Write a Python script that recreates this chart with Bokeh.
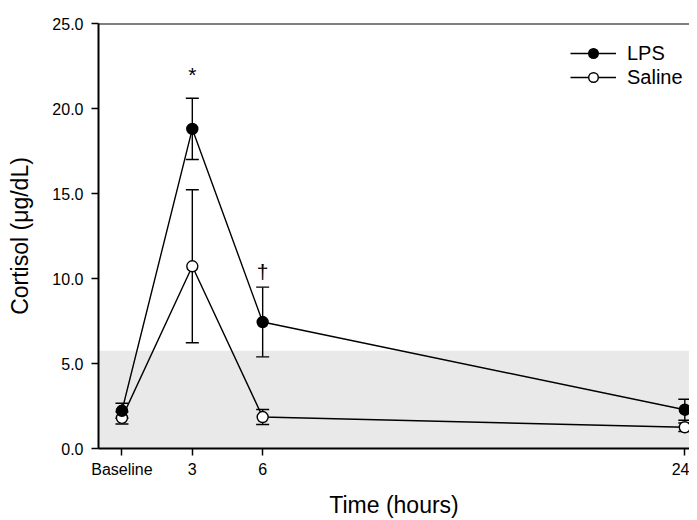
from bokeh.plotting import figure
from bokeh.models import (ColumnDataSource, Whisker, TeeHead, FixedTicker, BoxAnnotation,
                          Span, Legend, LegendItem, NumeralTickFormatter, Range1d)
from bokeh.core.properties import value
from bokeh.embed import file_html
from bokeh.resources import INLINE

# ---- data ----
hours = [0, 3, 6, 24]
tick_labels = ["Baseline", "3", "6", "24"]
lps_mean = [2.22, 18.8, 7.44, 2.28]
lps_err = [0.44, 1.8, 2.05, 0.62]
saline_mean = [1.80, 10.72, 1.85, 1.25]
saline_err = [0.36, 4.5, 0.44, 0.25]
normal_range_top = 5.75
annot_x = [3, 6]
annot_y = [22.0, 10.4]
annot_text = ["*", "\u2020"]

FONT = "Liberation Sans"

lps = ColumnDataSource(dict(x=hours, y=lps_mean,
                            lo=[m - e for m, e in zip(lps_mean, lps_err)],
                            hi=[m + e for m, e in zip(lps_mean, lps_err)]))
sal = ColumnDataSource(dict(x=hours, y=saline_mean,
                            lo=[m - e for m, e in zip(saline_mean, saline_err)],
                            hi=[m + e for m, e in zip(saline_mean, saline_err)]))

p = figure(width=689, height=520, output_backend="svg", toolbar_location=None,
           x_range=Range1d(-1, 24.2), y_range=Range1d(0, 25),
           min_border_left=98, min_border_top=23, min_border_right=0, min_border_bottom=70)
p.outline_line_color = None
p.grid.visible = False
p.background_fill_color = "white"

# shaded normal range
p.add_layout(BoxAnnotation(bottom=0, top=normal_range_top, fill_color="#e9e9e9",
                           fill_alpha=1.0, line_color=None, level="underlay"))
# top border line
p.add_layout(Span(location=25, dimension="width", line_color="black", line_width=2))

# lines
l_lps = p.line("x", "y", source=lps, line_color="black", line_width=1.4)
l_sal = p.line("x", "y", source=sal, line_color="black", line_width=1.4)

# error bars
for src in (lps, sal):
    w = Whisker(source=src, base="x", upper="hi", lower="lo", line_color="black", line_width=1.4,
                upper_head=TeeHead(size=13, line_color="black", line_width=1.4),
                lower_head=TeeHead(size=13, line_color="black", line_width=1.4))
    p.add_layout(w)

m_sal = p.scatter("x", "y", source=sal, size=11, fill_color="white", line_color="black", line_width=1.4)
m_lps = p.scatter("x", "y", source=lps, size=11, fill_color="black", line_color="black", line_width=1.4)

# annotations
p.text(x=annot_x, y=annot_y, text=annot_text, text_align="center", text_baseline="middle",
       text_font=value(FONT), text_font_size="21px", text_color="black")

# axes
p.xaxis.ticker = FixedTicker(ticks=hours)
p.xaxis.major_label_overrides = {h: t for h, t in zip(hours, tick_labels)}
p.yaxis.ticker = FixedTicker(ticks=[0, 5, 10, 15, 20, 25])
p.yaxis.formatter = NumeralTickFormatter(format="0.0")
for ax in (p.xaxis, p.yaxis):
    ax.axis_line_width = 2
    ax.axis_line_color = "black"
    ax.major_tick_line_color = "black"
    ax.major_tick_line_width = 1.5
    ax.major_tick_out = 7
    ax.major_tick_in = 0
    ax.minor_tick_line_color = None
    ax.major_label_text_font = FONT
    ax.major_label_text_font_size = "16px"
    ax.major_label_text_color = "black"
    ax.axis_label_text_font = FONT
    ax.axis_label_text_font_size = "23px"
    ax.axis_label_text_font_style = "normal"
    ax.axis_label_text_color = "black"
p.xaxis.axis_label = "Time (hours)"
p.yaxis.axis_label = "Cortisol (\u03bcg/dL)"
p.xaxis.major_label_standoff = 5
p.yaxis.major_label_standoff = 8
p.xaxis.axis_label_standoff = 11
p.yaxis.axis_label_standoff = 16

legend = Legend(items=[LegendItem(label="LPS", renderers=[l_lps, m_lps]),
                       LegendItem(label="Saline", renderers=[l_sal, m_sal])],
                location=(472, 359), orientation="vertical")
legend.glyph_width = 46
legend.glyph_height = 24
legend.label_height = 24
legend.label_standoff = 11
legend.spacing = 0
legend.padding = 0
legend.margin = 0
legend.border_line_color = None
legend.background_fill_alpha = 0
legend.label_text_font = FONT
legend.label_text_font_size = "20px"
legend.label_text_color = "black"
p.add_layout(legend)

open("out.html", "w").write(file_html(p, INLINE))
